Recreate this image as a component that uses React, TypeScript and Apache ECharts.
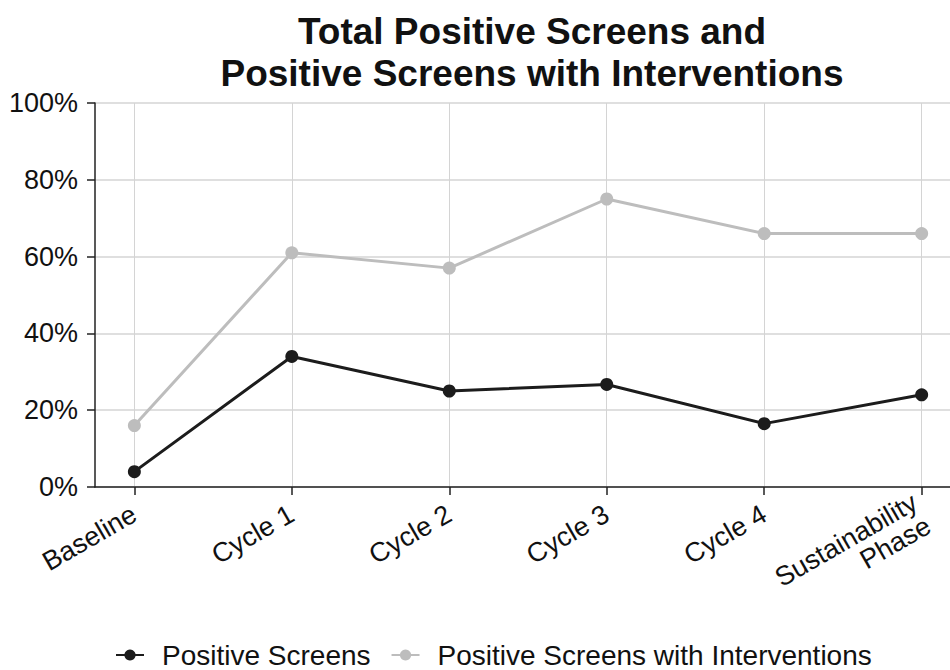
import React, { useEffect, useRef } from "react";
import * as echarts from "echarts";

const categories = ["Baseline", "Cycle 1", "Cycle 2", "Cycle 3", "Cycle 4", "Sustainability\nPhase"];
const positiveScreens = [4, 34, 25, 26.7, 16.5, 24];
const positiveWithInterventions = [16, 61, 57, 75, 66, 66];
const yTicks = [0, 20, 40, 60, 80, 100];

export default function App() {
  const ref = useRef<HTMLDivElement>(null);
  useEffect(() => {
    document.body.style.margin = "0";
    const chart = echarts.init(ref.current!, null, { renderer: "svg" });
    const idx = categories.map((_, i) => i);
    const font = "'Liberation Sans', Arial, sans-serif";
    chart.setOption({
      animation: false,
      backgroundColor: "#ffffff",
      title: {
        text: "Total Positive Screens and\nPositive Screens with Interventions",
        left: 527,
        textAlign: "center",
        top: 5,
        textStyle: { fontFamily: font, fontSize: 37, fontWeight: "bold", color: "#111", lineHeight: 42 },
      },
      grid: { left: 95, right: 0, top: 103, bottom: 183, containLabel: false },
      legend: {
        top: 641,
        left: 115,
        padding: 0,
        itemWidth: 28,
        itemHeight: 14,
        itemGap: 20,
        textStyle: { fontFamily: font, fontSize: 28, lineHeight: 28, color: "#111", padding: [0, 0, 0, 13] },
        data: ["Positive Screens", "Positive Screens with Interventions"],
      },
      xAxis: {
        type: "value",
        min: -0.25,
        max: 5.18,
        axisLine: { show: true, onZero: false, lineStyle: { color: "#222", width: 1.5 } },
        axisTick: { show: true, length: 8, customValues: idx, lineStyle: { color: "#222", width: 1.5 } },
        axisLabel: {
          customValues: idx,
          rotate: 30,
          margin: 25,
          fontFamily: font,
          fontSize: 27,
          color: "#111",
          align: "right",
          formatter: (v: number) => categories[Math.round(v)] ?? "",
        },
        splitLine: { show: true, lineStyle: { color: "#d4d4d4", width: 1 } },
      },
      yAxis: {
        type: "value",
        min: 0,
        max: 100,
        interval: 20,
        axisLine: { show: true, onZero: false, lineStyle: { color: "#222", width: 1.5 } },
        axisTick: { show: true, length: 8, lineStyle: { color: "#222", width: 1.5 } },
        axisLabel: {
          fontFamily: font,
          fontSize: 27,
          color: "#111",
          margin: 17,
          formatter: (v: number) => (yTicks.includes(v) ? v + "%" : ""),
        },
        splitLine: { show: true, lineStyle: { color: "#d4d4d4", width: 1.5 } },
      },
      series: [
        {
          name: "Positive Screens",
          type: "line",
          data: positiveScreens.map((v, i) => [i, v]),
          symbol: "circle",
          symbolSize: 13,
          itemStyle: { color: "#1c1c1c" },
          lineStyle: { color: "#1c1c1c", width: 3 },
          z: 3,
        },
        {
          name: "Positive Screens with Interventions",
          type: "line",
          data: positiveWithInterventions.map((v, i) => [i, v]),
          symbol: "circle",
          symbolSize: 13,
          itemStyle: { color: "#bdbdbd" },
          lineStyle: { color: "#bdbdbd", width: 3 },
          z: 2,
        },
      ],
    });
    return () => chart.dispose();
  }, []);
  return <div ref={ref} style={{ position: "absolute", left: 0, top: 0, width: 950, height: 670 }} />;
}
